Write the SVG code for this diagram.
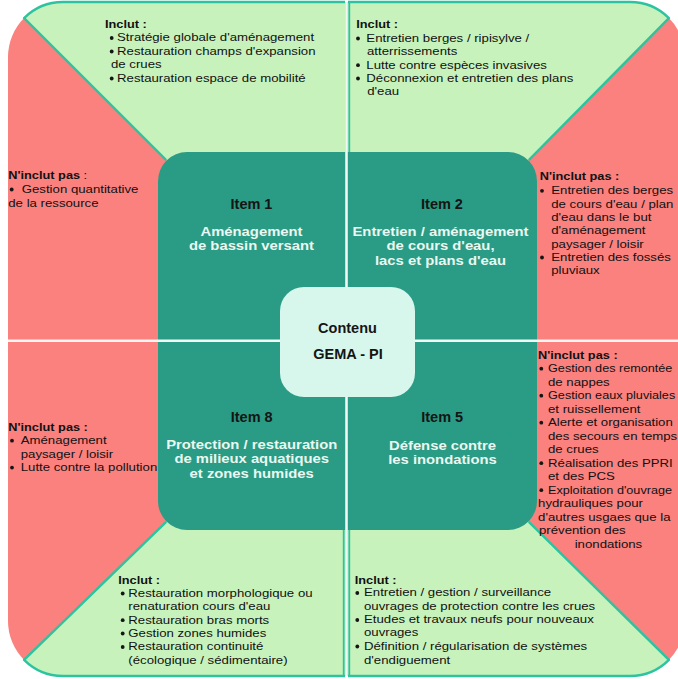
<svg xmlns="http://www.w3.org/2000/svg" width="678" height="679" viewBox="0 0 678 679">
<defs>
<style>
.red{fill:#FA817E}
.green{fill:#C8F2BC}
.edge{fill:none;stroke:#2CC4A0;stroke-width:2.4;stroke-linejoin:round}
.box{fill:#2A9B84}
.t{font-family:"Liberation Sans",Arial,sans-serif;font-size:11.8px;fill:#111}
.s{font-size:11.3px}
.h{font-family:"Liberation Sans",Arial,sans-serif;font-size:11.4px;font-weight:bold;fill:#111}
.n{font-weight:normal}
.title{font-family:"Liberation Sans",Arial,sans-serif;font-size:14.5px;font-weight:bold;fill:#151515;text-anchor:middle}
.sub{font-family:"Liberation Sans",Arial,sans-serif;font-size:13px;font-weight:bold;fill:#EAF8F1;text-anchor:middle}
.div{stroke:#F4F6F4;stroke-width:2.6;fill:none}
.tl{stroke:#2CC4A0;stroke-width:1.8;fill:none}
.dot{fill:#151515}
</style>
</defs>
<rect width="678" height="679" fill="#FFFFFF"/>

<g id="background">
  <rect x="8" y="2" width="677" height="674" rx="55" class="red"/>
  <path class="green" d="M24.1,18.1 A55,55 0 0 1 63,2 L345,2 L345,175 L181,175 L166.2,160.2 Z"/>
  <path class="green" d="M348,2 L630,2 A55,55 0 0 1 668.9,18.1 L528.8,160.2 L514,175 L348,175 Z"/>
  <path class="green" d="M348,676 L630,676 A55,55 0 0 0 668.9,659.9 L528.8,521.8 L514,507 L348,507 Z"/>
  <path class="green" d="M345,676 L63,676 A55,55 0 0 1 24.1,659.9 L166.2,521.8 L181,507 L345,507 Z"/>
  <path class="edge" d="M166.2,160.2 L24.1,18.1 A55,55 0 0 1 63,2 L345,2"/>
  <path class="edge" d="M528.8,160.2 L668.9,18.1 A55,55 0 0 0 630,2 L348,2"/>
  <path class="edge" d="M528.8,521.8 L668.9,659.9 A55,55 0 0 1 630,676 L348,676"/>
  <path class="edge" d="M166.2,521.8 L24.1,659.9 A55,55 0 0 0 63,676 L345,676"/>
</g>

<g id="items-block">
  <rect x="158" y="152" width="379" height="378" rx="29" class="box"/>
</g>

<g id="connectors">
  <line class="div" x1="346.5" y1="2" x2="346.5" y2="676"/>
  <line class="div" x1="8" y1="340.7" x2="685" y2="340.7"/>
  <line class="tl" x1="349.3" y1="3" x2="349.3" y2="152"/>
  <line class="tl" x1="349.3" y1="530" x2="349.3" y2="675"/>
  <line class="tl" x1="343.7" y1="530" x2="343.7" y2="675"/>
</g>

<g id="center">
  <rect x="280" y="287" width="135" height="110" rx="24" fill="#D7F7EC"/>
  <text class="title" x="347.5" y="332.7">Contenu</text>
  <text class="title" x="348" y="359.3">GEMA - PI</text>
</g>

<g id="item1">
  <text class="title" x="251.5" y="209">Item 1</text>
  <g transform="translate(251.5 0) scale(1.14 1)">
    <text class="sub" x="0" y="236">Aménagement</text>
    <text class="sub" x="0" y="250.3">de bassin versant</text>
  </g>
</g>

<g id="item2">
  <text class="title" x="442" y="209">Item 2</text>
  <g transform="translate(440.5 0) scale(1.14 1)">
    <text class="sub" x="0" y="236">Entretien / aménagement</text>
    <text class="sub" x="0" y="250.5">de cours d'eau,</text>
    <text class="sub" x="0" y="265">lacs et plans d'eau</text>
  </g>
</g>

<g id="item8">
  <text class="title" x="251.7" y="421.7">Item 8</text>
  <g transform="translate(251.7 0) scale(1.14 1)">
    <text class="sub" x="0" y="449.3">Protection / restauration</text>
    <text class="sub" x="0" y="463.5">de milieux aquatiques</text>
    <text class="sub" x="0" y="477.7">et zones humides</text>
  </g>
</g>

<g id="item5">
  <text class="title" x="442.2" y="422">Item 5</text>
  <g transform="translate(442.5 0) scale(1.14 1)">
    <text class="sub" x="0" y="450">Défense contre</text>
    <text class="sub" x="0" y="464.3">les inondations</text>
  </g>
</g>

<g id="bullets">
  <circle class="dot" cx="111.7" cy="38" r="1.9"/>
  <circle class="dot" cx="111.7" cy="51.5" r="1.9"/>
  <circle class="dot" cx="111.7" cy="78.5" r="1.9"/>
  <circle class="dot" cx="358" cy="38.5" r="1.9"/>
  <circle class="dot" cx="358" cy="65.2" r="1.9"/>
  <circle class="dot" cx="358" cy="78.5" r="1.9"/>
  <circle class="dot" cx="11.7" cy="189.5" r="1.9"/>
  <circle class="dot" cx="542" cy="190.8" r="1.9"/>
  <circle class="dot" cx="542" cy="257.5" r="1.9"/>
  <circle class="dot" cx="12" cy="440.7" r="1.9"/>
  <circle class="dot" cx="12" cy="467.6" r="1.9"/>
  <circle class="dot" cx="541.3" cy="368.7" r="1.9"/>
  <circle class="dot" cx="541.3" cy="395.7" r="1.9"/>
  <circle class="dot" cx="541.3" cy="422.7" r="1.9"/>
  <circle class="dot" cx="541.3" cy="463.2" r="1.9"/>
  <circle class="dot" cx="541.3" cy="490.2" r="1.9"/>
  <circle class="dot" cx="122.7" cy="593.5" r="1.9"/>
  <circle class="dot" cx="122.7" cy="620.2" r="1.9"/>
  <circle class="dot" cx="122.7" cy="633.5" r="1.9"/>
  <circle class="dot" cx="122.7" cy="647" r="1.9"/>
  <circle class="dot" cx="357.3" cy="593" r="1.9"/>
  <circle class="dot" cx="357.3" cy="620" r="1.9"/>
  <circle class="dot" cx="357.3" cy="646.5" r="1.9"/>
</g>

<g transform="scale(1.12 1)">
  <g id="item1-inclut">
    <text class="h" x="93.75" y="28">Inclut :</text>
    <text class="t" x="104.5" y="41.5">Stratégie globale d'aménagement</text>
    <text class="t" x="104.5" y="55">Restauration champs d'expansion</text>
    <text class="t" x="99.1" y="68.5">de crues</text>
    <text class="t" x="104.5" y="82">Restauration espace de mobilité</text>
  </g>
  <g id="item2-inclut">
    <text class="h" x="318.1" y="28">Inclut :</text>
    <text class="t" x="327.1" y="42">Entretien berges / ripisylve /</text>
    <text class="t" x="327.7" y="55.3">atterrissements</text>
    <text class="t" x="327.1" y="68.7">Lutte contre espèces invasives</text>
    <text class="t" x="327.1" y="82">Déconnexion et entretien des plans</text>
    <text class="t" x="327.9" y="95.5">d'eau</text>
  </g>
  <g id="item1-ninclut">
    <text class="h" x="7.4" y="179.3">N'inclut pas<tspan class="n"> :</tspan></text>
    <text class="t" x="19.4" y="193">Gestion quantitative</text>
    <text class="t" x="7.4" y="206.7">de la ressource</text>
  </g>
  <g id="item2-ninclut">
    <text class="h" x="481.9" y="180">N'inclut pas :</text>
    <text class="t" x="492.2" y="194.3">Entretien des berges</text>
    <text class="t" x="492.2" y="207.7">de cours d'eau / plan</text>
    <text class="t" x="492.2" y="221">d'eau dans le but</text>
    <text class="t" x="492.2" y="234.3">d'aménagement</text>
    <text class="t" x="492.2" y="247.7">paysager / loisir</text>
    <text class="t" x="492.2" y="261">Entretien des fossés</text>
    <text class="t" x="492.2" y="274.3">pluviaux</text>
  </g>
  <g id="item8-ninclut">
    <text class="h" x="7.4" y="430.7">N'inclut pas :</text>
    <text class="t" x="18.5" y="444.2">Aménagement</text>
    <text class="t" x="18.5" y="457.7">paysager / loisir</text>
    <text class="t" x="18.5" y="471.1">Lutte contre la pollution</text>
  </g>
  <g id="item5-ninclut">
    <text class="h" x="480.4" y="358.7">N'inclut pas :</text>
    <text class="t s" x="489.3" y="372.2">Gestion des remontée</text>
    <text class="t" x="489.3" y="385.7">de nappes</text>
    <text class="t s" x="489.3" y="399.2">Gestion eaux pluviales</text>
    <text class="t" x="489.3" y="412.7">et ruissellement</text>
    <text class="t" x="489.3" y="426.2">Alerte et organisation</text>
    <text class="t" x="489.3" y="439.7">des secours en temps</text>
    <text class="t" x="489.3" y="453.2">de crues</text>
    <text class="t" x="489.3" y="466.7">Réalisation des PPRI</text>
    <text class="t" x="489.3" y="480.2">et des PCS</text>
    <text class="t s" x="489.3" y="493.7">Exploitation d'ouvrage</text>
    <text class="t" x="480.4" y="507.2">hydrauliques pour</text>
    <text class="t" x="480.4" y="520.7">d'autres usgaes que la</text>
    <text class="t" x="481.25" y="534.2">prévention des</text>
    <text class="t" x="513.1" y="547.7">inondations</text>
  </g>
  <g id="item8-inclut">
    <text class="h" x="105.6" y="584.5">Inclut :</text>
    <text class="t" x="114.6" y="597">Restauration morphologique ou</text>
    <text class="t" x="114.6" y="610.3">renaturation cours d'eau</text>
    <text class="t" x="114.6" y="623.7">Restauration bras morts</text>
    <text class="t" x="114.6" y="637">Gestion zones humides</text>
    <text class="t" x="114.6" y="650.5">Restauration continuité</text>
    <text class="t" x="114.6" y="664">(écologique / sédimentaire)</text>
  </g>
  <g id="item5-inclut">
    <text class="h" x="316.7" y="584.5">Inclut :</text>
    <text class="t" x="325" y="596.5">Entretien / gestion / surveillance</text>
    <text class="t" x="325" y="610">ouvrages de protection contre les crues</text>
    <text class="t" x="325" y="623.5">Etudes et travaux neufs pour nouveaux</text>
    <text class="t" x="325" y="636.5">ouvrages</text>
    <text class="t" x="325" y="650">Définition / régularisation de systèmes</text>
    <text class="t" x="325" y="664">d'endiguement</text>
  </g>
</g>
</svg>
